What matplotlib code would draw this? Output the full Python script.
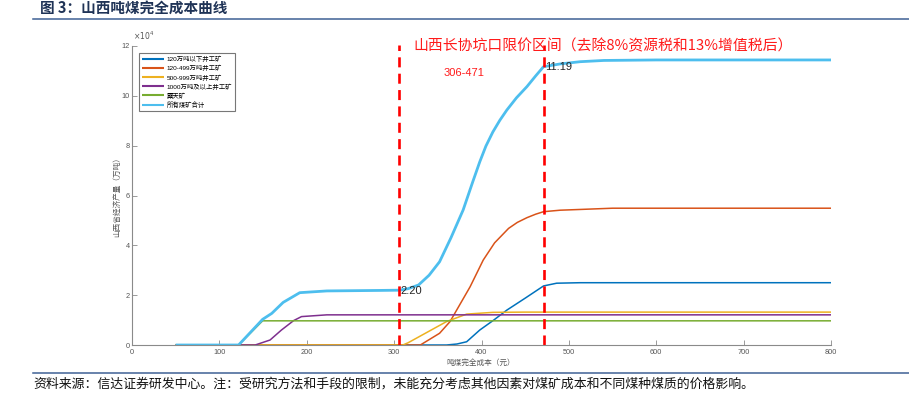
import matplotlib
matplotlib.use("Agg")
import matplotlib.pyplot as plt
from matplotlib.lines import Line2D

plt.rcParams['font.family'] = ['Liberation Sans', 'Noto Sans CJK SC', 'DejaVu Sans']

# 数据（单位：万吨，纵轴 x10^4）
labels = ['120万吨以下井工矿', '120-499万吨井工矿', '500-999万吨井工矿',
          '1000万吨及以上井工矿', '露天矿', '所有煤矿合计']
colors = ['#0072BD', '#D95319', '#EDB120', '#7E2F8E', '#77AC30', '#4DBEEE']

x_small = [50, 360, 372, 383, 398, 414, 429, 450, 471, 486, 513, 550, 800]
y_small = [0, 0, 0.04, 0.13, 0.60, 1.00, 1.40, 1.88, 2.37, 2.48, 2.50, 2.50, 2.50]

x_mid = [50, 330, 352, 364, 387, 402, 415, 431, 441, 452, 462, 471, 490, 513, 550, 800]
y_mid = [0, 0, 0.47, 0.94, 2.34, 3.41, 4.10, 4.68, 4.92, 5.11, 5.25, 5.35, 5.41, 5.44, 5.49, 5.49]

x_large = [50, 310, 316, 360, 383, 413, 450, 800]
y_large = [0, 0, 0.09, 0.94, 1.24, 1.31, 1.32, 1.32]

x_huge = [50, 141, 158, 171, 185, 194, 223, 300, 800]
y_huge = [0, 0, 0.20, 0.60, 0.98, 1.14, 1.21, 1.21, 1.21]

x_open = [50, 122, 149.5, 800]
y_open = [0, 0, 0.97, 0.97]

x_total = [50, 122, 149.5, 160, 173, 192, 223, 283, 306, 316, 328, 340, 352, 365, 379,
           390, 398, 405, 413, 421, 429, 440, 452, 462, 471, 490, 513, 540, 600, 800]
y_total = [0, 0, 1.03, 1.27, 1.71, 2.10, 2.17, 2.19, 2.20, 2.26, 2.41, 2.80, 3.34, 4.30, 5.42,
           6.55, 7.35, 7.98, 8.55, 9.02, 9.43, 9.92, 10.37, 10.80, 11.17, 11.28, 11.37, 11.42, 11.44, 11.44]

price_low, price_high = 306, 471
xticks = list(range(0, 900, 100))
yticks = list(range(0, 14, 2))

W, H = 909, 395
fig = plt.figure(figsize=(W / 100, H / 100), dpi=100)
ax = fig.add_axes([132 / W, 1 - 345 / H, (831 - 132) / W, (345 - 46) / H])

series = [(x_small, y_small), (x_mid, y_mid), (x_large, y_large),
          (x_huge, y_huge), (x_open, y_open), (x_total, y_total)]
for i, (xs, ys) in enumerate(series):
    lw = 2.0 if i == 5 else 1.1
    ax.plot(xs, ys, color=colors[i], lw=lw, label=labels[i],
            solid_capstyle='butt', solid_joinstyle='round')

# 限价区间
for xv in (price_low, price_high):
    ax.plot([xv, xv], [0, 12.05], color='#FF0000', lw=1.9, dashes=(3.8, 2.4), clip_on=False)

ax.text(322, 12.0, '山西长协坑口限价区间（去除8%资源税和13%增值税后）', color='#FF1A1A',
        fontsize=10.7, va='center', ha='left',
        family=['Noto Sans CJK SC', 'DejaVu Sans'])
ax.text(380, 10.91, '306-471', color='#FF1A1A', fontsize=8, va='center', ha='center')
ax.text(307, 2.18, '2.20', color='#262626', fontsize=8, va='center', ha='left')
ax.text(472.5, 11.16, '11.19', color='#262626', fontsize=8, va='center', ha='left')

ax.set_xlim(0, 800)
ax.set_ylim(0, 12)
ax.set_xticks(xticks)
ax.set_yticks(yticks)
ax.spines['top'].set_visible(False)
ax.spines['right'].set_visible(False)
for s in ('left', 'bottom'):
    ax.spines[s].set_color('#8a8a8a')
    ax.spines[s].set_linewidth(0.8)
ax.tick_params(direction='in', length=3.5, width=0.6, color='#8a8a8a',
               labelsize=5.3, labelcolor='#555555')
ax.tick_params(axis='x', pad=3)
ax.tick_params(axis='y', pad=1.5)

ax.text(0.002, 1.012, r'$\times10^4$', transform=ax.transAxes, fontsize=5.5,
        color='#555555', ha='left', va='bottom')

fig.text(117 / W, 1 - 195 / H, '山西省经济产量（万吨）', rotation=90, fontsize=5.5,
         color='#555555', ha='center', va='center')
fig.text(481 / W, 1 - 363 / H, '吨煤完全成本（元）', fontsize=5.5,
         color='#555555', ha='center', va='center')

leg = ax.legend(loc='upper left', bbox_to_anchor=(139 / W, 1 - 53 / H),
                bbox_transform=fig.transFigure, borderaxespad=0,
                prop={'size': 4.6}, handlelength=3.5, labelspacing=0.42,
                handletextpad=0.4, borderpad=0.45, fancybox=False, framealpha=1)
leg.get_frame().set_edgecolor('#777777')
leg.get_frame().set_linewidth(0.8)
for lh in leg.get_lines():
    lh.set_linewidth(1.5)

# 标题和注释
fig.text(40 / W, 1 - 8 / H, '图 3：山西吨煤完全成本曲线', fontsize=10.5, fontweight='bold',
         color='#1F3356', ha='left', va='center',
         family=['Noto Sans CJK SC', 'DejaVu Sans'])
fig.add_artist(Line2D([33 / W, 1], [1 - 18.5 / H, 1 - 18.5 / H], color='#3E6194', lw=1.1))
fig.add_artist(Line2D([33 / W, 1], [1 - 373 / H, 1 - 373 / H], color='#3E6194', lw=1.1))
fig.text(33 / W, 1 - 384 / H,
         '资料来源：信达证券研发中心。注：受研究方法和手段的限制，未能充分考虑其他因素对煤矿成本和不同煤种煤质的价格影响。',
         fontsize=9.3, color='#111111', ha='left', va='center',
         family=['Noto Sans CJK SC', 'DejaVu Sans'])

fig.savefig('out.png', dpi=100)
